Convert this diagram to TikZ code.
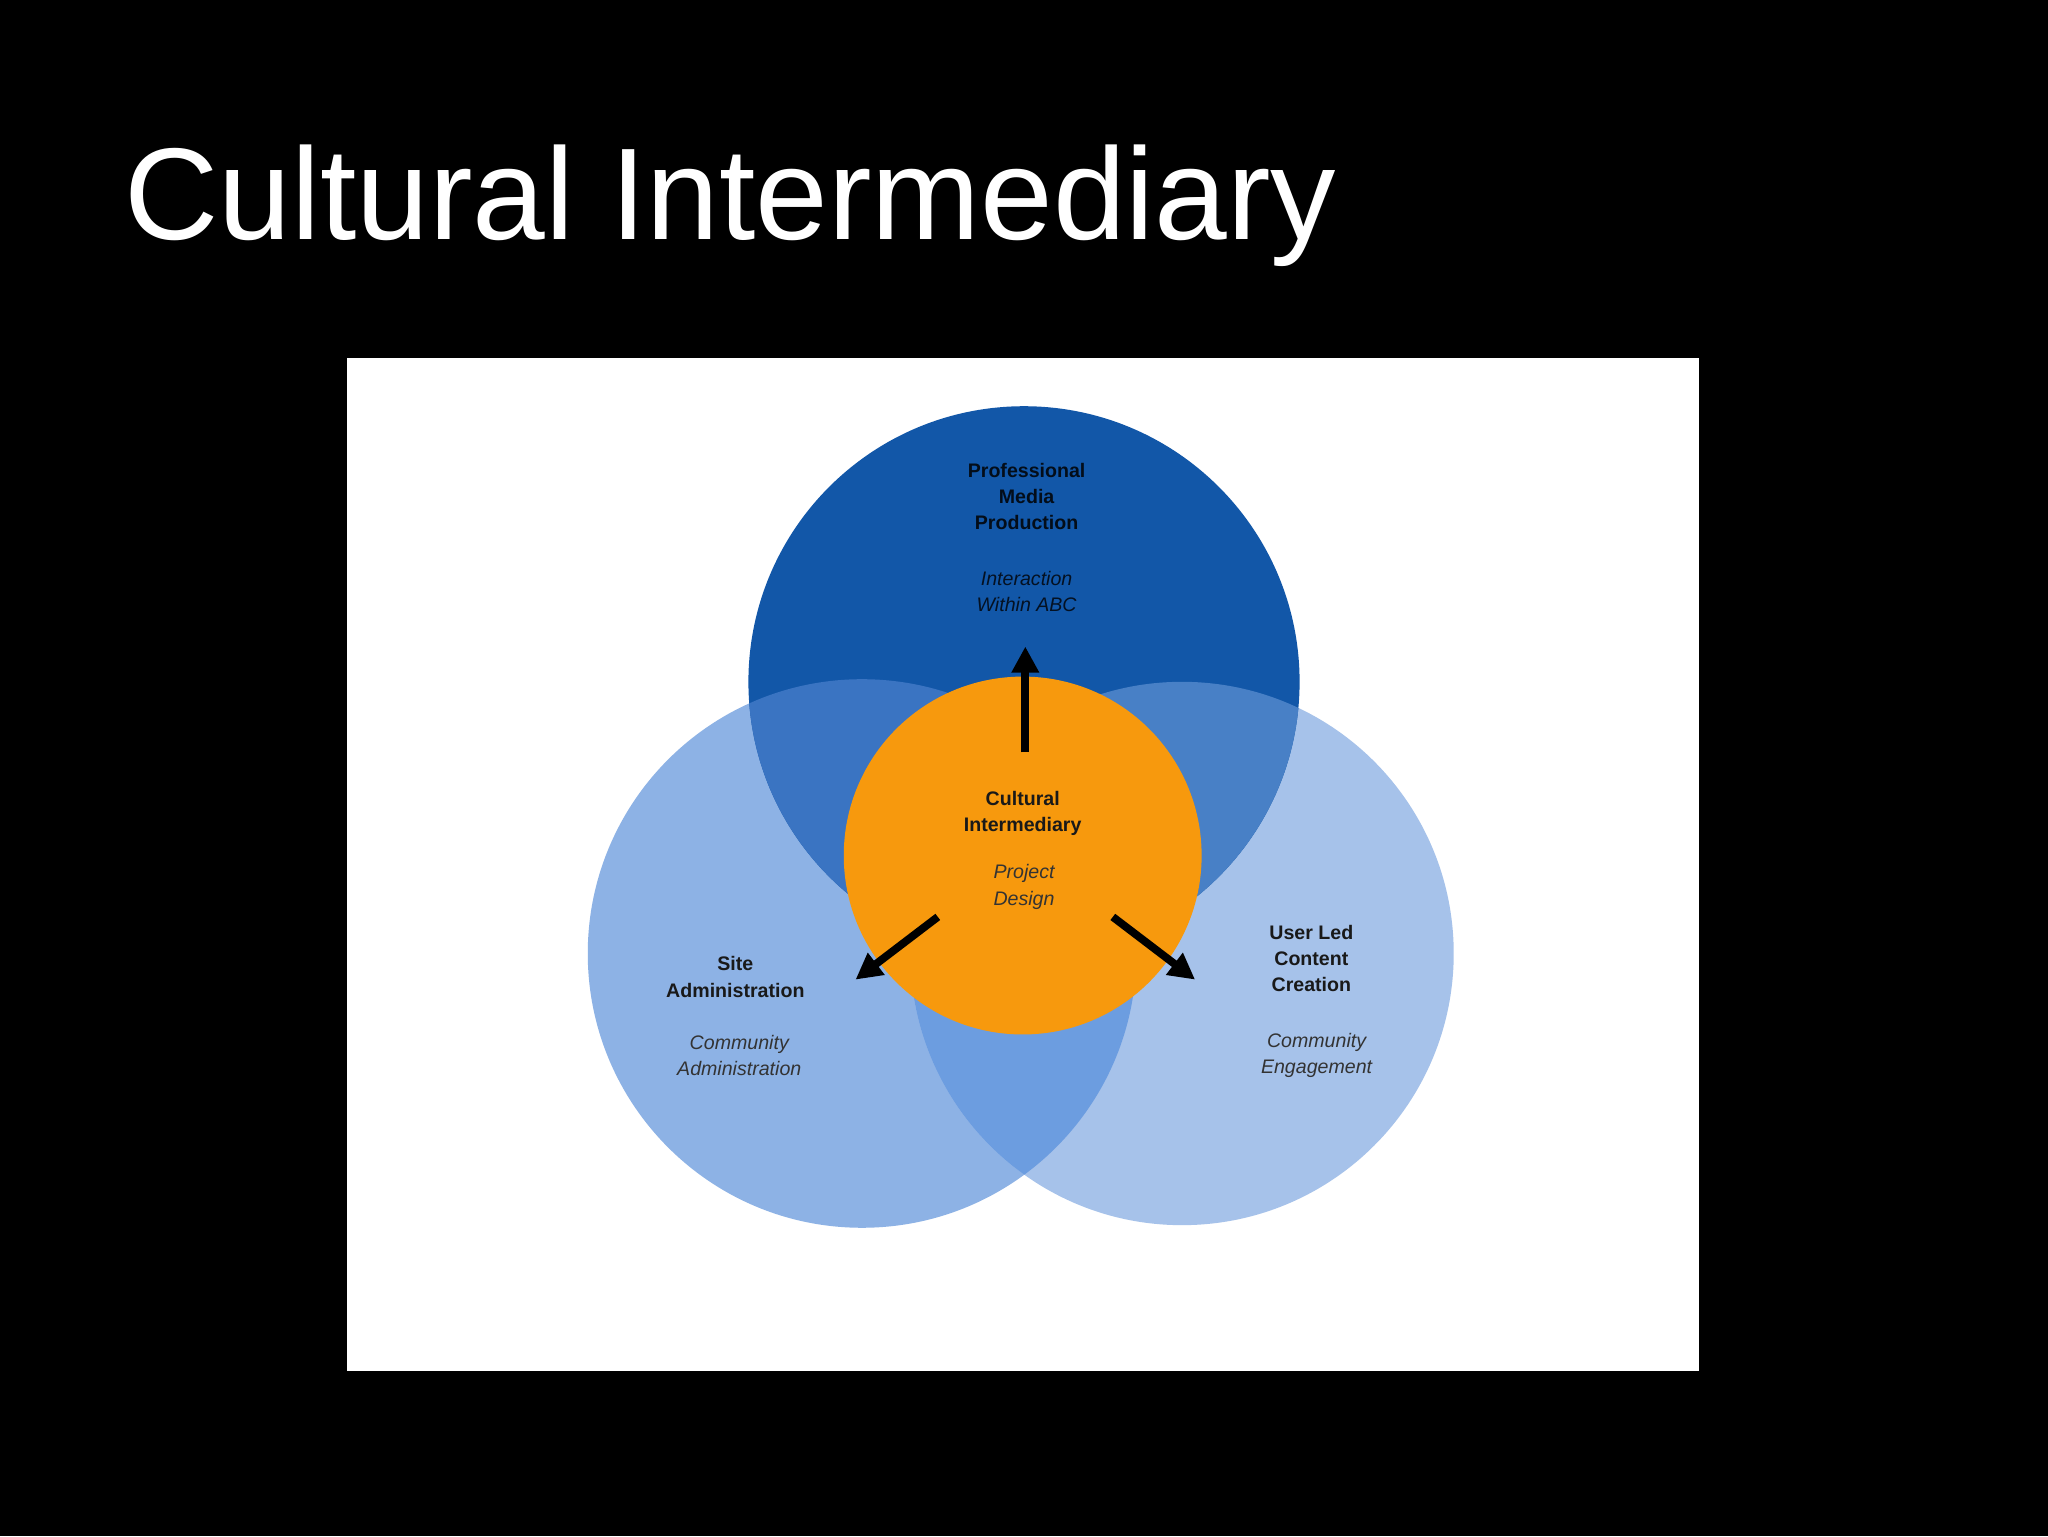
\documentclass[tikz,border=0pt]{standalone}
\usepackage{fontspec}
\setmainfont{Liberation Sans}
\usetikzlibrary{arrows.meta}
\definecolor{dkb}{HTML}{1257A8}
\definecolor{lb}{HTML}{8DB2E5}
\definecolor{rb}{HTML}{A6C2EA}
\definecolor{tl}{HTML}{3A74C2}
\definecolor{tr}{HTML}{4880C6}
\definecolor{lr}{HTML}{6C9DE0}
\definecolor{orng}{HTML}{F7990D}
\tikzset{lbl/.style={align=center,font=\fontsize{15}{20}\selectfont\bfseries,text=black!90},
sub/.style={align=center,font=\fontsize{15}{20}\selectfont\itshape,text=black!80},
arr/.style={-{Triangle[length=20pt,width=20pt]},line width=6pt}}
\begin{document}
\begin{tikzpicture}[x=1pt,y=-1pt]
\fill[black] (0,0) rectangle (1568,1176);
\useasboundingbox (0,0) rectangle (1568,1176);
\node[anchor=base west,text=white,font=\fontsize{100}{110}\selectfont,inner sep=0] (title) at (95,183) {Cultural Intermediary};
\fill[white] (266,274) rectangle (1301,1050);
\def\T{(784,522) circle (211)}
\def\L{(660,730) circle (210)}
\def\R{(905,730) circle (208)}
\fill[lb] \L; \fill[rb] \R;
\begin{scope}\clip \L; \fill[lr] \R; \end{scope}
\fill[dkb] \T;
\begin{scope}\clip \T; \fill[tl] \L; \fill[tr] \R; \end{scope}
\node[circle,fill=orng,minimum size=274pt] (c) at (783,655) {};
\coordinate (a1) at (785,576); \coordinate (b1) at (785,495);
\coordinate (a2) at (718,702); \coordinate (b2) at (655,750);
\coordinate (a3) at (852,702); \coordinate (b3) at (915,750);
\draw[arr] (a1) -- (b1); \draw[arr] (a2) -- (b2); \draw[arr] (a3) -- (b3);
\node[lbl,text=black!85!dkb] (t1) at (786,380) {Professional\\Media\\Production};
\node[sub,text=black!80!dkb] (t2) at (786,453) {Interaction\\Within ABC};
\node[lbl] (c1) at (783,623) {Cultural\\Intermediary};
\node[sub] (c2) at (784,679) {Project\\Design};
\node[lbl] (l1) at (563,748) {Site\\Administration};
\node[sub] (l2) at (566,808) {Community\\Administration};
\node[lbl] (r1) at (1004,734) {User Led\\Content\\Creation};
\node[sub] (r2) at (1008,808) {Community\\Engagement};
\end{tikzpicture}
\end{document}
